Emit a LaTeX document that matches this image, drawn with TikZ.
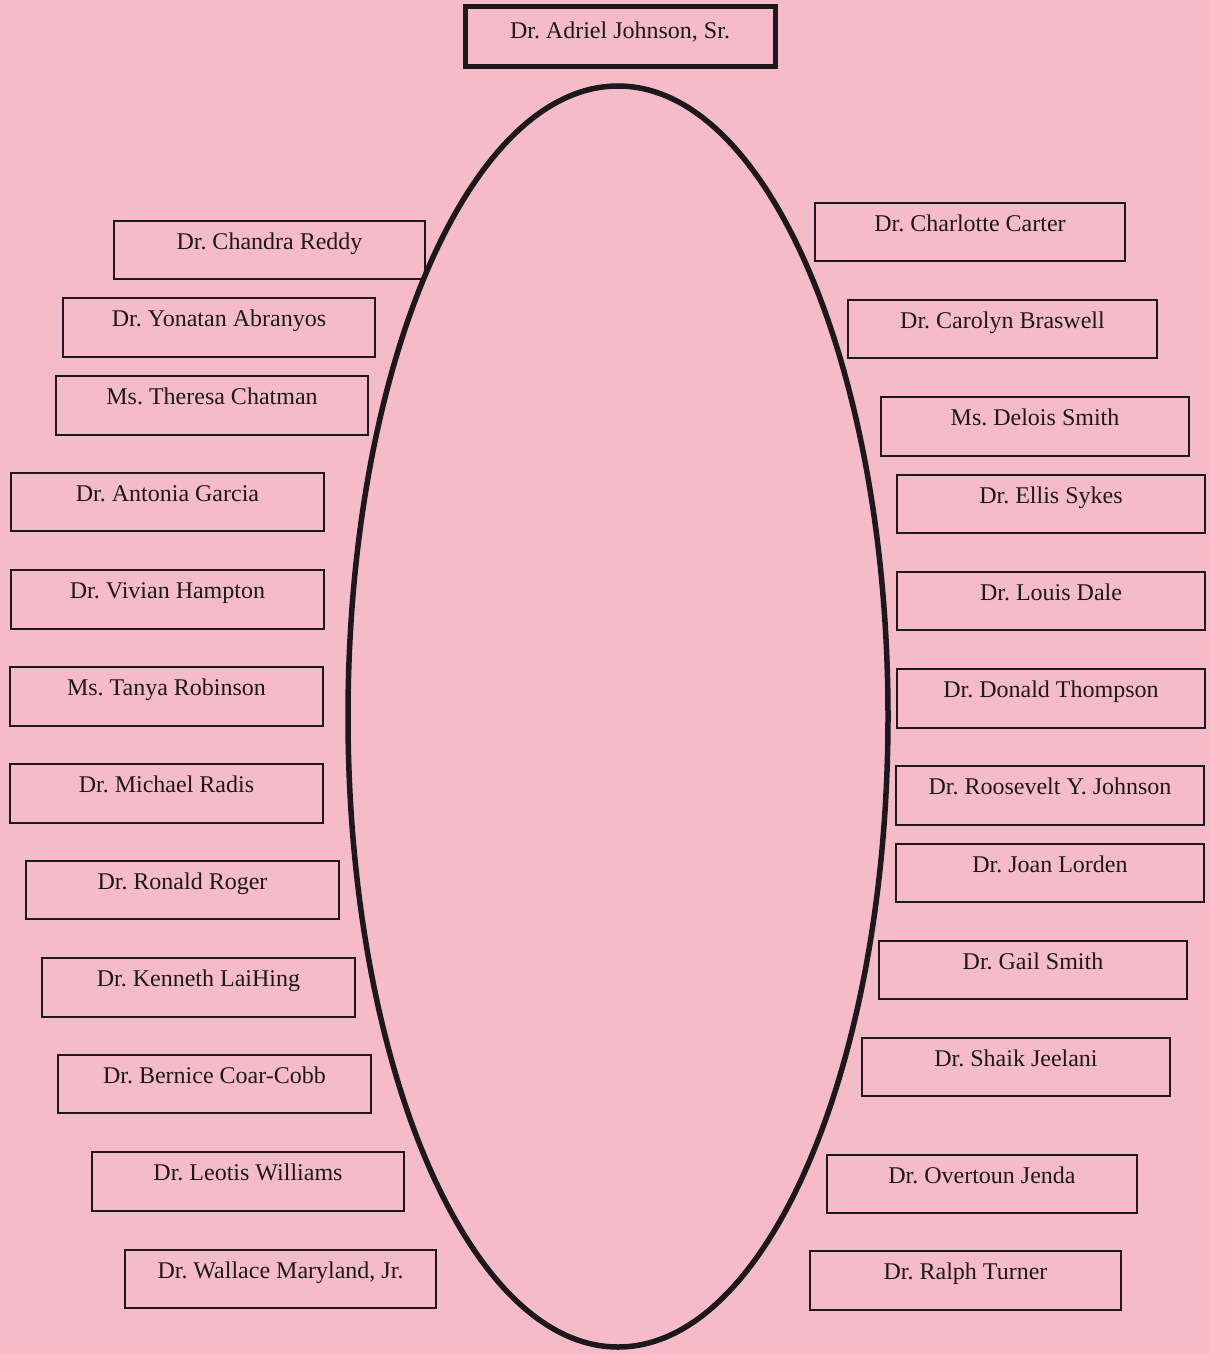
\documentclass[tikz,border=0pt]{standalone}
\usepackage{fontspec}
\setmainfont{Liberation Serif}
\frenchspacing
\definecolor{bgpink}{RGB}{245,187,201}
\definecolor{ink}{RGB}{28,24,28}
\tikzset{
  pbox/.style={draw=ink, line width=2pt, rectangle, inner sep=0pt,
    font=\fontsize{24}{28}\selectfont\frenchspacing, text=ink, text height=16pt, text depth=18pt},
  topbox/.style={draw=ink, line width=5pt, rectangle, inner sep=0pt,
    font=\fontsize{24}{28}\selectfont\frenchspacing, text=ink, text height=16pt, text depth=14pt}
}
\newcommand\pb[6]{\node[pbox, minimum width={#4-#3}, minimum height={#6-#5}] (#1) at ({(#3+#4)/2},{(#5+#6)/2}) {#2};}
\begin{document}
\begin{tikzpicture}[x=1pt,y=-1pt]
\useasboundingbox (0,0) rectangle (1209,1354);
\fill[bgpink] (0,0) rectangle (1209,1354);
\node[topbox, minimum width=310, minimum height=60] (top) at (620,37) {Dr. Adriel Johnson, Sr.};
\draw[ink, line width=5.5pt] (618,716.5) ellipse [x radius=270, y radius=630.5];
% left column
\pb{l1}{Dr. Chandra Reddy}{114}{425}{221}{279}
\pb{l2}{Dr. Yonatan Abranyos}{63}{375}{298}{357}
\pb{l3}{Ms. Theresa Chatman}{56}{368}{376}{435}
\pb{l4}{Dr. Antonia Garcia}{11}{324}{473}{531}
\pb{l5}{Dr. Vivian Hampton}{11}{324}{570}{629}
\pb{l6}{Ms. Tanya Robinson}{10}{323}{667}{726}
\pb{l7}{Dr. Michael Radis}{10}{323}{764}{823}
\pb{l8}{Dr. Ronald Roger}{26}{339}{861}{919}
\pb{l9}{Dr. Kenneth LaiHing}{42}{355}{958}{1017}
\pb{l10}{Dr. Bernice Coar-Cobb}{58}{371}{1055}{1113}
\pb{l11}{Dr. Leotis Williams}{92}{404}{1152}{1211}
\pb{l12}{Dr. Wallace Maryland, Jr.}{125}{436}{1250}{1308}
% right column
\pb{r1}{Dr. Charlotte Carter}{815}{1125}{203}{261}
\pb{r2}{Dr. Carolyn Braswell}{848}{1157}{300}{358}
\pb{r3}{Ms. Delois Smith}{881}{1189}{397}{456}
\pb{r4}{Dr. Ellis Sykes}{897}{1205}{475}{533}
\pb{r5}{Dr. Louis Dale}{897}{1205}{572}{630}
\pb{r6}{Dr. Donald Thompson}{897}{1205}{669}{728}
\pb{r7}{Dr. Roosevelt Y. Johnson}{896}{1204}{766}{825}
\pb{r8}{Dr. Joan Lorden}{896}{1204}{844}{902}
\pb{r9}{Dr. Gail Smith}{879}{1187}{941}{999}
\pb{r10}{Dr. Shaik Jeelani}{862}{1170}{1038}{1096}
\pb{r11}{Dr. Overtoun Jenda}{827}{1137}{1155}{1213}
\pb{r12}{Dr. Ralph Turner}{810}{1121}{1251}{1310}
\end{tikzpicture}
\end{document}
